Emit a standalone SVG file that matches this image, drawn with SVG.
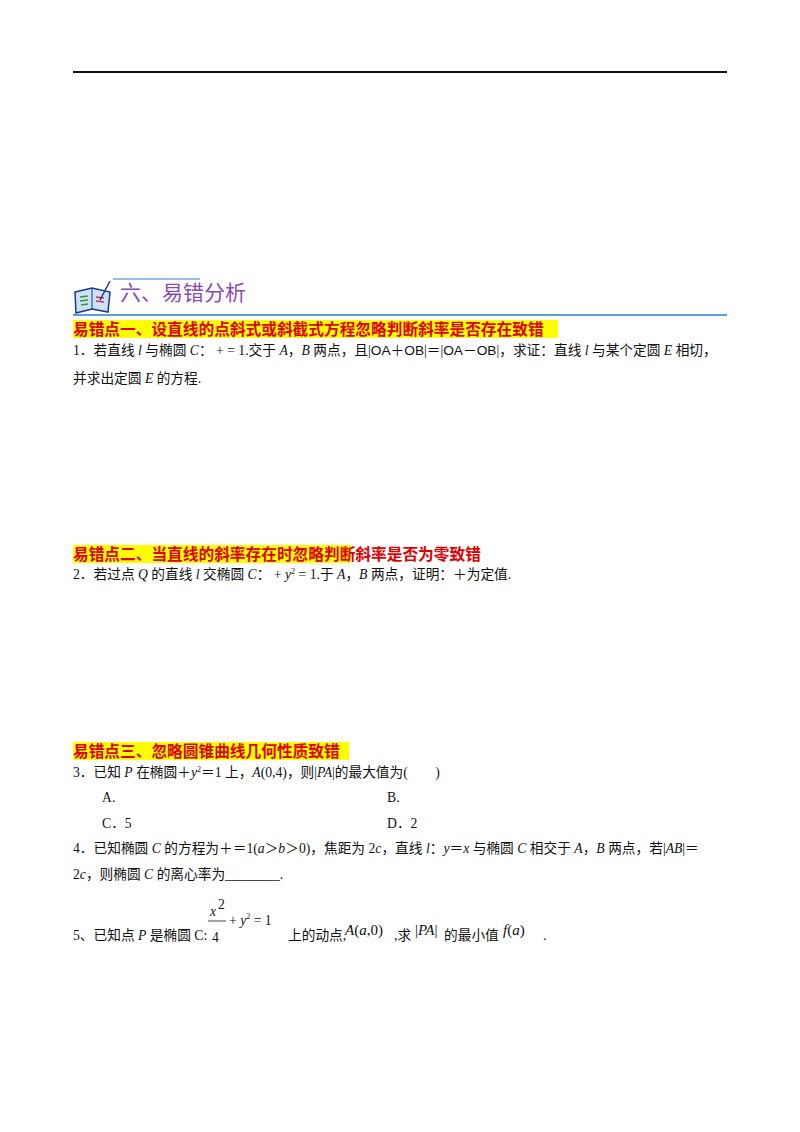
<svg xmlns="http://www.w3.org/2000/svg" width="800" height="1132" viewBox="0 0 800 1132">
<style>
text{font-family:"Liberation Serif","Noto Sans CJK SC",serif;font-size:13.7px;fill:#111}
.h{font-family:"Noto Sans CJK SC",sans-serif;font-weight:bold;font-size:15.7px;fill:#e00000}
.hb{fill:#ffff00}
.i{font-style:italic}
.m{font-family:"Liberation Sans","Noto Sans CJK SC",sans-serif}
</style>
<rect width="800" height="1132" fill="#fff"/>
<line x1="73" y1="72" x2="727" y2="72" stroke="#111" stroke-width="2"/>
<g id="icon">
<path d="M75 292 L92 288 L110 292 L108 312 L92 309 L76 313 Z" fill="#cfe0f5" stroke="#1a3a8a" stroke-width="1.5"/>
<line x1="92" y1="288" x2="92" y2="309" stroke="#1a3a8a"/>
<path d="M80 297 l8 -1 M80 301 l8 -1 M81 305 l7 -1" stroke="#2a9a3a" stroke-width="1.5"/>
<path d="M96 297 l8 1 M96 301 l8 1" stroke="#d03060" stroke-width="1.5"/>
<line x1="100" y1="300" x2="110" y2="281" stroke="#1a3a8a" stroke-width="1.5"/>
</g>
<line x1="113" y1="279" x2="200" y2="279" stroke="#2a7bd0" stroke-width="1"/>
<text x="120" y="300" style="font-family:'Noto Sans CJK SC',sans-serif;font-size:21px;fill:#8a4ab8">六、易错分析</text>
<line x1="73" y1="315" x2="727" y2="315" stroke="#2a7bd0" stroke-width="1.5"/>
<rect class="hb" x="73" y="320" width="485" height="18"/>
<text class="h" x="73" y="335">易错点一、设直线的点斜式或斜截式方程忽略判断斜率是否存在致错</text>
<text x="73" y="355">1．若直线 <tspan class="i">l</tspan> 与椭圆 <tspan class="i">C</tspan>： + = 1.交于 <tspan class="i">A</tspan>，<tspan class="i">B</tspan> 两点，且|<tspan class="m">OA</tspan>＋<tspan class="m">OB</tspan>|＝|<tspan class="m">OA</tspan>－<tspan class="m">OB</tspan>|，求证：直线 <tspan class="i">l</tspan> 与某个定圆 <tspan class="i">E</tspan> 相切，</text>
<text x="73" y="383">并求出定圆 <tspan class="i">E</tspan> 的方程.</text>
<rect class="hb" x="73" y="545" width="278" height="18"/>
<text class="h" x="73" y="560">易错点二、当直线的斜率存在时忽略判断斜率是否为零致错</text>
<text x="73" y="579">2．若过点 <tspan class="i">Q</tspan> 的直线 <tspan class="i">l</tspan> 交椭圆 <tspan class="i">C</tspan>： + <tspan class="i">y</tspan><tspan font-size="8" dy="-5">2</tspan><tspan dy="5"> = 1.于 </tspan><tspan class="i">A</tspan>，<tspan class="i">B</tspan> 两点，证明：＋为定值.</text>
<rect class="hb" x="73" y="742" width="276" height="18"/>
<text class="h" x="73" y="757">易错点三、忽略圆锥曲线几何性质致错</text>
<text x="73" y="777">3．已知 <tspan class="i">P</tspan> 在椭圆＋<tspan class="i">y</tspan><tspan font-size="8" dy="-5">2</tspan><tspan dy="5">＝1 上，</tspan><tspan class="i">A</tspan>(0,4)，则|<tspan class="i">PA</tspan>|的最大值为(　　)</text>
<text x="102" y="802">A.</text>
<text x="387" y="802">B.</text>
<text x="102" y="828">C．5</text>
<text x="387" y="828">D．2</text>
<text x="73" y="853">4．已知椭圆 <tspan class="i">C</tspan> 的方程为＋＝1(<tspan class="i">a</tspan>＞<tspan class="i">b</tspan>＞0)，焦距为 2<tspan class="i">c</tspan>，直线 <tspan class="i">l</tspan>：<tspan class="i">y</tspan>＝<tspan class="i">x</tspan> 与椭圆 <tspan class="i">C</tspan> 相交于 <tspan class="i">A</tspan>，<tspan class="i">B</tspan> 两点，若|<tspan class="i">AB</tspan>|＝</text>
<text x="73" y="879">2<tspan class="i">c</tspan>，则椭圆 <tspan class="i">C</tspan> 的离心率为________.</text>
<text x="73" y="940">5、已知点 <tspan class="i">P</tspan> 是椭圆 C:</text>
<text x="210" y="916" class="i" font-size="15">x</text><text x="218" y="909" font-size="8">2</text>
<line x1="208" y1="921" x2="226" y2="921" stroke="#111" stroke-width="0.8"/>
<text x="212" y="942" font-size="15">4</text>
<text x="229" y="925" font-size="15">+ <tspan class="i">y</tspan><tspan font-size="8" dy="-6">2</tspan><tspan dy="6"> = 1</tspan></text>
<text x="288" y="940">上的动点,</text>
<text x="345" y="935" style="font-size:15px"><tspan class="i">A</tspan>(<tspan class="i">a</tspan>,0)</text>
<text x="394" y="940">,求</text>
<text x="415" y="935" style="font-size:15px">|<tspan class="i">PA</tspan>|</text>
<text x="444" y="940">的最小值</text>
<text x="503" y="935" style="font-size:15px"><tspan class="i">f</tspan>(<tspan class="i">a</tspan>)</text>
<text x="543" y="940">.</text>
</svg>
